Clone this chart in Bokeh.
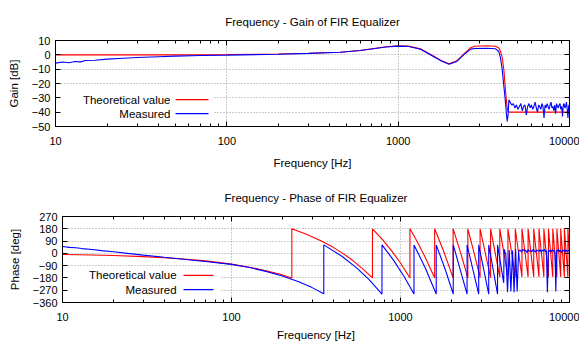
from bokeh.plotting import figure
from bokeh.models import (LogAxis, LinearAxis, FixedTicker, Range1d, Label,
                          BoxAnnotation, CustomJSTickFormatter, Arrow)
from bokeh.embed import file_html
from bokeh.resources import INLINE

FONT = "Liberation Sans"

# ---------------- data ----------------
x_major = [10, 100, 1000, 10000]
x_minor = [20, 30, 40, 50, 60, 70, 80, 90, 200, 300, 400, 500, 600, 700, 800, 900,
           2000, 3000, 4000, 5000, 6000, 7000, 8000, 9000]
gain_ticks = [10, 0, -10, -20, -30, -40, -50]
phase_ticks = [270, 180, 90, 0, -90, -180, -270, -360]

# Gain, theoretical (Hz, dB)
gain_f_theory = [10, 20, 50, 100, 200, 300, 460, 600, 720, 850,
                 1000, 1150, 1350, 1615, 1800, 1980, 2200, 2420, 2650, 2800,
                 3300, 3700, 3870, 3960, 4050, 4140, 4200, 4275, 4330, 4370,
                 4450, 5000, 6000, 7000, 8000, 9000, 10000]
gain_theory = [0.0, 0.0, 0.0, 0.2, 0.6, 1.1, 1.8, 3.0, 4.4, 5.6,
               6.3, 6.1, 4.2, -1.0, -4.2, -6.2, -4.2, 0.7, 5.0, 6.0,
               6.3, 6.0, 4.7, 2.3, -2.0, -10.5, -20.0, -31.0, -37.0, -39.5,
               -40, -40, -40, -40, -40, -40, -40]

# Gain, measured (Hz, dB)
gain_f_meas = [10, 11, 12, 13, 14, 15, 17, 20, 25, 30, 40, 50, 70, 100,
               200, 300, 460, 600, 720, 850, 1000, 1150, 1350, 1615, 1800,
               1980, 2200, 2420, 2650, 2800, 3300, 3700, 3870, 3960, 4050,
               4140, 4235, 4290, 4330, 4380, 4430,
               4500, 4600, 4700, 4800, 4900, 5000, 5100, 5200, 5300, 5400,
               5500, 5600, 5700, 5800, 5900, 6000, 6100, 6200, 6300, 6400,
               6500, 6600, 6700, 6800, 6900, 7000, 7100, 7200, 7300, 7400,
               7500, 7600, 7700, 7800, 7900, 8000, 8100, 8200, 8300, 8400,
               8500, 8600, 8700, 8800, 8900, 9000, 9100, 9200, 9300, 9400,
               9500, 9600, 9700, 9800, 9900, 10000]
gain_meas = [-5.8, -5.0, -5.5, -4.6, -4.9, -4.0, -3.8, -3.0, -2.4, -1.9, -1.3, -0.9, -0.5, -0.2,
             0.4, 1.0, 1.8, 3.0, 4.3, 5.5, 6.1, 5.8, 3.9, -1.3, -4.5,
             -6.6, -4.6, 0.2, 4.0, 4.4, 4.6, 4.2, 2.3, -2.5, -10.5,
             -22.0, -33.7, -42.0, -46.5, -42.0, -31.4,
             -33, -35, -34, -37, -35, -38, -36, -34, -39, -36,
             -35, -42, -36, -34, -37, -35, -38, -36, -33, -37,
             -40, -35, -36, -38, -34, -36, -44, -35, -37, -34,
             -36, -38, -35, -33, -37, -36, -39, -35, -41, -34,
             -36, -37, -35, -34, -38, -36, -43, -35, -34, -37,
             -36, -33, -38, -44, -35, -37]

# Phase, theoretical (Hz, deg)
phase_f_theory = [10, 15, 20, 30, 40, 50, 70, 100, 130, 160, 190, 227.5,
                  227.5, 280, 340, 400, 460, 520, 600, 682.5,
                  682.5, 780, 880, 1000, 1137.5,
                  1137.5, 1250, 1400, 1592.5,
                  1592.5, 1800, 2047.5,
                  2047.5, 2275, 2502.5,
                  2502.5, 2730, 2957.5,
                  2957.5, 3412.5, 3412.5, 3867.5, 3867.5, 4322.5, 4322.5, 4777.5,
                  4777.5, 5232.5, 5232.5, 5687.5, 5687.5, 6142.5, 6142.5, 6597.5,
                  6597.5, 7052.5, 7052.5, 7507.5, 7507.5, 7962.5, 7962.5, 8417.5,
                  8417.5, 8872.5, 8872.5, 9327.5, 9327.5, 9782.5, 9782.5, 10000]
phase_theory = [-8, -12, -16, -24, -32, -40, -55, -79, -103, -127, -150, -180,
                180, 138, 91, 44, -4, -51, -115, -180,
                180, 103, 24, -71, -180,
                180, 91, -28, -180,
                180, 16, -180,
                180, 0, -180,
                180, 0, -178,
                180, -178, 180, -175, 180, -172, 180, -172,
                180, -172, 180, -172, 180, -172, 180, -172,
                180, -172, 180, -172, 180, -172, 180, -172,
                180, -172, 180, -172, 180, -172, 180, 8]

# Phase, measured (Hz, deg)
phase_f_meas = [10, 11, 12, 13, 15, 17, 20, 25, 30, 40, 50, 70, 100, 130, 160, 200, 250, 300, 351.6,
                351.6, 450, 550, 650, 777,
                777, 900, 1050, 1202,
                1202, 1400, 1627,
                1627, 1840, 2052,
                2052, 2477, 2477, 2902, 2902, 3327, 3327, 3752, 3752, 4080,
                4100, 4200, 4300, 4400, 4500, 4600, 4700, 4800, 4900, 5000,
                5100, 5200, 5300, 5400, 5500, 5600, 5700, 5800, 5900, 6000,
                6100, 6200, 6300, 6400, 6500, 6600, 6700, 6800, 6900, 7000,
                7100, 7200, 7300, 7400, 7500, 7600, 7700, 7800, 7900, 8000,
                8100, 8200, 8300, 8400, 8500, 8600, 8700, 8800, 8900, 9000,
                9100, 9200, 9300, 9400, 9500, 9600, 9700, 9800, 9900, 10000]
phase_meas = [50, 44, 41, 35, 28, 20, 12, -2, -13, -29, -41, -60, -81, -106, -132, -166, -208, -251, -296,
              62, -21, -106, -191, -298,
              62, -42, -169, -298,
              62, -106, -298,
              62, -118, -298,
              62, -298, 62, -298, 62, -298, 62, -298, 62, -216,
              30, -10, -285, 25, -280, 20, -285, 30, -280, 15,
              25, 10, 30, 18, 22, 5, 28, 15, 20, 12,
              30, 18, 8, 25, 20, 14, 28, 10, 22, 18,
              30, 12, 20, -285, 25, 15, 22, 10, 28, 18,
              20, 8, -280, 25, 15, 30, 12, 22, 18, 5,
              25, 20, 15, 28, 10, 22, 18, 12, 25, 20]

RED = "#ff0000"
BLUE = "#0000ff"


def empty_fmt():
    return CustomJSTickFormatter(code="return ''")


def make_fig(title, ylabel, yr, yticks, h, left, top, bottom, xlab_standoff):
    p = figure(width=579, height=h, x_axis_type="log",
               x_range=Range1d(10, 10000), y_range=Range1d(*yr),
               output_backend="svg", toolbar_location=None,
               min_border_left=left, min_border_right=10,
               min_border_top=top, min_border_bottom=bottom,
               title=title)
    p.title.text_font = FONT
    p.title.text_font_size = "11.5px"
    p.title.text_font_style = "normal"
    p.title.align = "center"
    p.title.text_color = "black"
    p.title.standoff = 26
    p.outline_line_color = "black"
    p.outline_line_alpha = 1
    p.outline_line_width = 1

    bx = p.xaxis[0]
    ly = p.yaxis[0]
    xg = p.xgrid[0]
    yg = p.ygrid[0]

    xt = FixedTicker(ticks=x_major, minor_ticks=x_minor)
    yt = FixedTicker(ticks=yticks)
    bx.ticker = xt
    bx.major_label_overrides = {v: str(v) for v in x_major}
    ly.ticker = yt
    xg.ticker = xt
    yg.ticker = yt

    # mirror axes (ticks only)
    ax_top = LogAxis(ticker=xt, formatter=empty_fmt())
    ax_right = LinearAxis(ticker=yt, formatter=empty_fmt())
    p.add_layout(ax_top, "above")
    p.add_layout(ax_right, "right")

    for ax in [bx, ly, ax_top, ax_right]:
        ax.major_tick_in = 5
        ax.major_tick_out = 0
        ax.minor_tick_in = 3
        ax.minor_tick_out = 0
        ax.axis_line_color = "black"
        ax.major_tick_line_color = "black"
        ax.minor_tick_line_color = "black"
        ax.major_label_text_font = FONT
        ax.major_label_text_font_size = "11px"
        ax.major_label_text_color = "black"
        ax.axis_label_text_font = FONT
        ax.axis_label_text_font_size = "11.5px"
        ax.axis_label_text_font_style = "normal"
        ax.axis_label_text_color = "black"
    for ax in [ax_top, ax_right]:
        ax.major_label_standoff = 0
    ly.minor_tick_in = 0
    ax_right.minor_tick_in = 0
    bx.major_label_standoff = 10
    ly.major_label_standoff = 5
    bx.axis_label = "Frequency [Hz]"
    bx.axis_label_standoff = xlab_standoff
    ly.axis_label = ylabel
    ly.axis_label_standoff = 9

    for g in [xg, yg]:
        g.grid_line_color = "#9a9a9a"
        g.grid_line_dash = "1 2"
        g.grid_line_width = 1
    return p


def legend(p, tx, sx0, sx1, y1, y2, box):
    p.add_layout(BoxAnnotation(left=box[0], right=box[1], bottom=box[2], top=box[3],
                               fill_color="white", fill_alpha=1, line_alpha=0,
                               level="underlay"))
    for y, txt, col in [(y1, "Theoretical value", RED), (y2, "Measured", BLUE)]:
        p.add_layout(Label(x=tx, y=y, text=txt, text_align="right", text_baseline="middle",
                           text_font=FONT, text_font_size="11.5px", text_color="black"))
        p.add_layout(Arrow(end=None, x_start=sx0, y_start=y, x_end=sx1, y_end=y,
                           line_color=col, line_width=1.2))


# ---------------- gain plot ----------------
p1 = make_fig("Frequency - Gain of FIR Equalizer", "Gain [dB]", (-50, 10), gain_ticks,
              176, 55, 40, 50, 9)
p1.line(gain_f_theory, gain_theory, line_color=RED, line_width=1.1)
p1.line(gain_f_meas, gain_meas, line_color=BLUE, line_width=1.1)
legend(p1, 46.9, 50.2, 78.2, -31.2, -41.0, (10, 84, -47, -25))

# ---------------- phase plot ----------------
p2 = make_fig("Frequency - Phase of FIR Equalizer", "Phase [deg]", (-360, 270), phase_ticks,
              168, 62, 40, 42, 5)
p2.line(phase_f_theory, phase_theory, line_color=RED, line_width=1.1)
p2.line(phase_f_meas, phase_meas, line_color=BLUE, line_width=1.1)
legend(p2, 47.3, 52.0, 78.2, -161, -265.5, (10, 85, -310, -118))

# two separate roots (stacked), so each frame keeps its own left edge
open("out.html", "w").write(file_html([p1, p2], INLINE))
